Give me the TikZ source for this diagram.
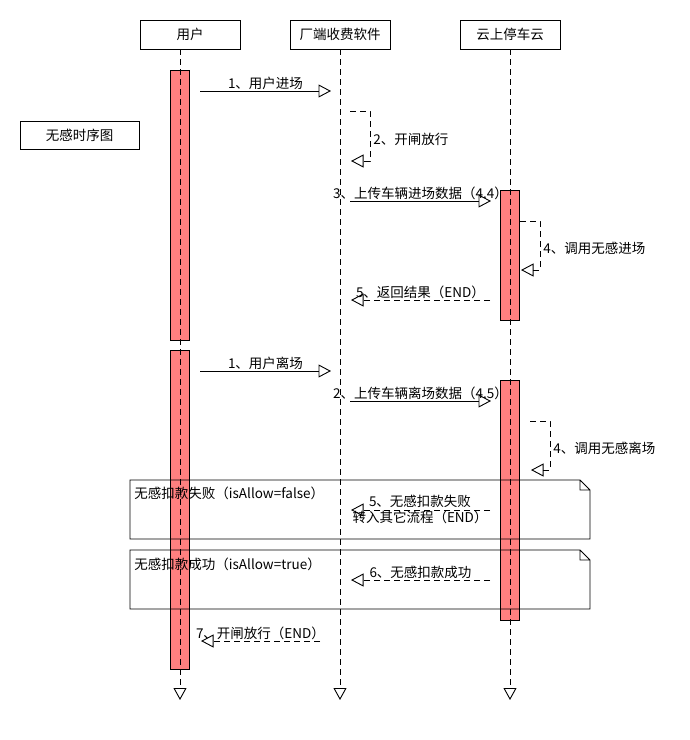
\documentclass[tikz,border=0pt]{standalone}
\usepackage{fontspec}
\setmainfont{Noto Sans CJK SC}
\usepackage{xcolor}
\definecolor{barred}{HTML}{FF8080}
\usetikzlibrary{arrows.meta,positioning}
\tikzset{>=stealth,
	actor/.style={% Participant boxes at the top
		draw, rectangle,
		minimum width=100pt,
		minimum height=29pt,
		inner sep=0pt,
		font=\fontsize{13.5}{16}\selectfont
	},
	activation/.style={
		draw, fill=barred, rectangle,
		minimum width=19pt,
		inner sep=0pt,
		outer sep=0pt
	},
	lifeline/.style={dash pattern=on 6pt off 4pt, -{Triangle[open,length=12pt,width=13pt]}},
	msg/.style={-{Triangle[open,length=12.5pt,width=13pt]}},
	reply/.style={msg, dash pattern=on 6pt off 4pt},
	msgtext/.style={font=\fontsize{13.5}{16}\selectfont, inner sep=1pt, align=center},
	notebox/.style={draw}
}
\begin{document}
\begin{tikzpicture}[x=1pt, y=-1pt, line width=0.9pt]
	\useasboundingbox (0,0) rectangle (690,740);
	% participants
	\node[actor] (user) at (190,34.5) {用户};
	\node[actor] (soft) at (340,34.5) {厂端收费软件};
	\node[actor] (cloud) at (510,34.5) {云上停车云};
	\node[actor, minimum width=119pt, minimum height=28pt] (title) at (79.5,135) {无感时序图};
	
	% activation bars
	\node[activation, minimum height=270pt, anchor=north] (userBarA) at (180,70) {};
	\node[activation, minimum height=319pt, anchor=north] (userBarB) at (180,350) {};
	\node[activation, minimum height=130pt, anchor=north] (cloudBarA) at (510,190) {};
	\node[activation, minimum height=240pt, anchor=north] (cloudBarB) at (510,380) {};
	
	% notes
	\draw[notebox] (130,480) -- (580,480) -- (590,490) -- (590,539) -- (130,539) -- cycle
		(580,480) -- (580,490) -- (590,490);
	\draw[notebox] (130,550) -- (580,550) -- (590,560) -- (590,609) -- (130,609) -- cycle
		(580,550) -- (580,560) -- (590,560);
	
	% lifelines
	\coordinate (userTop) at (180,49);
	\coordinate (userEnd) at (180,700);
	\coordinate (softTop) at (340,49);
	\coordinate (softEnd) at (340,700);
	\coordinate (cloudTop) at (510,49);
	\coordinate (cloudEnd) at (510,700);
	\draw[lifeline] (userTop) -- (userEnd);
	\draw[lifeline] (softTop) -- (softEnd);
	\draw[lifeline] (cloudTop) -- (cloudEnd);
	
	% entry
	\coordinate (inS) at (200,91);
	\coordinate (inE) at (331,91);
	\draw[msg] (inS) -- (inE) node[msgtext, midway, above=0pt] (inLbl) {1、用户进场};
	
	\coordinate (gateA) at (350,111);
	\coordinate (gateB) at (370,161);
	\coordinate (gateC) at (351,161);
	\draw[reply] (gateA) -| (gateB) -- (gateC);
	\node[msgtext, anchor=west] (gateLbl) at (372,139) {2、开闸放行};
	
	\coordinate (upInS) at (350,201);
	\coordinate (upInE) at (491,201);
	\draw[msg] (upInS) -- (upInE) node[msgtext, midway, above=0pt] (upInLbl) {3、上传车辆进场数据（4.4）};
	
	\coordinate (callInA) at (520,221);
	\coordinate (callInB) at (540,270);
	\coordinate (callInC) at (521,270);
	\draw[reply] (callInA) -| (callInB) -- (callInC);
	\node[msgtext, anchor=west] (callInLbl) at (542,248) {4、调用无感进场};
	
	\coordinate (retS) at (490,300);
	\coordinate (retE) at (351,300);
	\draw[reply] (retS) -- (retE) node[msgtext, midway, above=0pt] (retLbl) {5、返回结果（END）};
	
	% exit
	\coordinate (outS) at (200,371);
	\coordinate (outE) at (331,371);
	\draw[msg] (outS) -- (outE) node[msgtext, midway, above=0pt] (outLbl) {1、用户离场};
	
	\coordinate (upOutS) at (350,401);
	\coordinate (upOutE) at (491,401);
	\draw[msg] (upOutS) -- (upOutE) node[msgtext, midway, above=0pt] (upOutLbl) {2、上传车辆离场数据（4.5）};
	
	\coordinate (callOutA) at (530,421);
	\coordinate (callOutB) at (550,470);
	\coordinate (callOutC) at (531,470);
	\draw[reply] (callOutA) -| (callOutB) -- (callOutC);
	\node[msgtext, anchor=west] (callOutLbl) at (552,448) {4、调用无感离场};
	
	\node[msgtext, anchor=west] (failNote) at (133,493) {无感扣款失败（isAllow=false）};
	\coordinate (failS) at (490,510);
	\coordinate (failE) at (351,510);
	\draw[reply] (failS) -- (failE);
	\node[msgtext] (failLbl) at (420,509) {5、无感扣款失败\\转入其它流程（END）};
	
	\node[msgtext, anchor=west] (okNote) at (133,564) {无感扣款成功（isAllow=true）};
	\coordinate (okS) at (490,580);
	\coordinate (okE) at (351,580);
	\draw[reply] (okS) -- (okE) node[msgtext, midway, above=0pt] (okLbl) {6、无感扣款成功};
	
	\coordinate (openS) at (320,641);
	\coordinate (openE) at (201,641);
	\draw[reply] (openS) -- (openE) node[msgtext, midway, above=0pt] (openLbl) {7、开闸放行（END）};
\end{tikzpicture}
\end{document}
